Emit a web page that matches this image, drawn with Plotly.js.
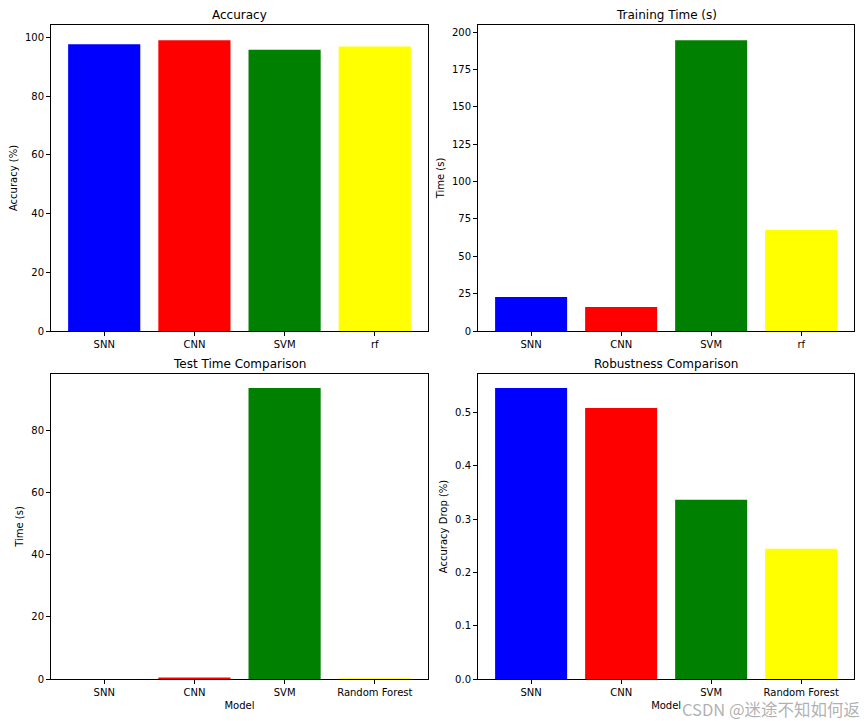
<!DOCTYPE html>
<html>
<head>
<meta charset="utf-8">
<script src="https://cdn.plot.ly/plotly-3.0.1.min.js"></script>
<style>html,body{margin:0;padding:0;background:#fff;}#chart{width:865px;height:721px;}</style>
</head>
<body>
<div id="chart"></div>
<script>
// Data
var modelsShort = ["SNN", "CNN", "SVM", "rf"];
var modelsLong = ["SNN", "CNN", "SVM", "Random Forest"];
var barColors = ["blue", "red", "green", "yellow"];
var accuracy = [97.7, 99.1, 95.9, 97.0];
var trainingTime = [22.8, 16.1, 194.7, 67.6];
var testTime = [0.05, 0.55, 93.6, 0.3];
var robustness = [0.5455, 0.508, 0.3363, 0.2446];

var titles = ["Accuracy", "Training Time (s)", "Test Time Comparison", "Robustness Comparison"];
var yTitles = ["Accuracy (%)", "Time (s)", "Time (s)", "Accuracy Drop (%)"];

var W = 865, H = 721;
var fontFam = "DejaVu Sans, sans-serif";

function bar(x, y, xa, ya) {
  return {type: "bar", x: x, y: y, xaxis: xa, yaxis: ya, width: 0.8,
          marker: {color: barColors, line: {width: 0}}, hoverinfo: "x+y"};
}

var data = [
  bar(modelsShort, accuracy, "x", "y"),
  bar(modelsShort, trainingTime, "x2", "y2"),
  bar(modelsLong, testTime, "x3", "y3"),
  bar(modelsLong, robustness, "x4", "y4")
];

function xax(dom, anchor, title) {
  var a = {domain: dom, anchor: anchor, type: "category", range: [-0.59, 3.59],
    showline: true, mirror: true, linecolor: "#000", linewidth: 1,
    ticks: "outside", ticklen: 4, tickcolor: "#000", showgrid: false, zeroline: false,
    tickfont: {family: fontFam, size: 10, color: "#000"}, automargin: false, fixedrange: true};
  if (title) a.title = {text: title, font: {family: fontFam, size: 10, color: "#000"}, standoff: 4};
  return a;
}
function yax(dom, anchor, range, dtick, title, fmt) {
  var a = {domain: dom, anchor: anchor, range: range, dtick: dtick, tick0: 0,
    showline: true, mirror: true, linecolor: "#000", linewidth: 1,
    ticks: "outside", ticklen: 4, tickcolor: "#000", showgrid: false, zeroline: false,
    tickfont: {family: fontFam, size: 10, color: "#000"}, automargin: false, fixedrange: true,
    title: {text: title, font: {family: fontFam, size: 10, color: "#000"}, standoff: 5}};
  if (fmt) a.tickformat = fmt;
  return a;
}

var xL = [51/W, 428/W], xR = [478/W, 854.3/W];
var yT = [1 - 331/H, 1 - 25/H], yB = [1 - 679.2/H, 1 - 373.7/H];

var annotations = [];
var centers = [[(xL[0]+xL[1])/2, 15], [(xR[0]+xR[1])/2, 15], [(xL[0]+xL[1])/2, 363.5], [(xR[0]+xR[1])/2, 363.5]];
for (var i = 0; i < 4; i++) {
  annotations.push({text: titles[i], xref: "paper", yref: "paper", x: centers[i][0], y: 1 - centers[i][1]/H,
    showarrow: false, xanchor: "center", yanchor: "middle", font: {family: fontFam, size: 12, color: "#000"}});
}
annotations.push({text: "CSDN @迷途不知如何返", xref: "paper", yref: "paper", x: 862/W, y: 1 - 709/H,
  showarrow: false, xanchor: "right", yanchor: "middle",
  font: {family: "Noto Sans CJK SC, sans-serif", size: 16.5, color: "rgba(150,150,150,0.75)"}});

var layout = {
  width: W, height: H, margin: {l: 0, r: 0, t: 0, b: 0},
  paper_bgcolor: "#fff", plot_bgcolor: "#fff", showlegend: false,
  font: {family: fontFam},
  xaxis: xax(xL, "y"), yaxis: yax(yT, "x", [0, 104.3], 20, yTitles[0]),
  xaxis2: xax(xR, "y2"), yaxis2: yax(yT, "x2", [0, 204.9], 25, yTitles[1]),
  xaxis3: xax(xL, "y3", "Model"), yaxis3: yax(yB, "x3", [0, 98.2], 20, yTitles[2]),
  xaxis4: xax(xR, "y4", "Model"), yaxis4: yax(yB, "x4", [0, 0.5723], 0.1, yTitles[3], ".1f"),
  annotations: annotations
};

Plotly.newPlot("chart", data, layout, {displayModeBar: false, staticPlot: true});
</script>
</body>
</html>
